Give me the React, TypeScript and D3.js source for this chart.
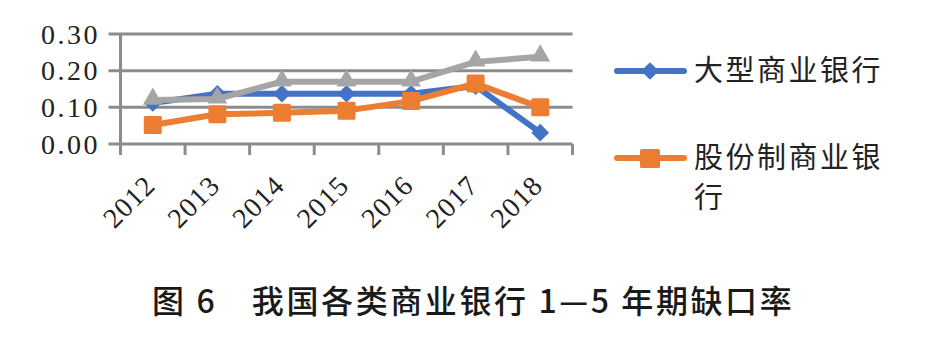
import React, { useEffect, useRef } from "react";
import * as d3 from "d3";

const categories = ["2012", "2013", "2014", "2015", "2016", "2017", "2018"];
const yTicks = [0, 0.1, 0.2, 0.3];
const seriesNames = ["大型商业银行", "股份制商业银行", "城市商业银行"];
const bigBanks = [0.112, 0.137, 0.137, 0.137, 0.137, 0.158, 0.031];
const jointStock = [0.052, 0.081, 0.085, 0.091, 0.117, 0.165, 0.1];
const cityBanks = [0.12, 0.123, 0.17, 0.17, 0.17, 0.224, 0.238];
const colors = ["#4472C4", "#ED7D31", "#A5A5A5"];
const title = "图 6\u3000我国各类商业银行 1—5 年期缺口率";

export default function App() {
  const ref = useRef<SVGSVGElement>(null);
  useEffect(() => {
    const svg = d3.select(ref.current);
    svg.selectAll("*").remove();
    const left = 120.5, right = 572.5, top = 34, bottom = 144;
    const x = d3.scaleBand().domain(categories).range([left, right]);
    const y = d3.scaleLinear().domain([0, 0.3]).range([bottom, top]);
    const grid = "#8c8c8c";
    const serif = "'Liberation Serif', 'DejaVu Serif', serif";

    // gridlines
    svg.append("g").selectAll("line").data(yTicks).join("line")
      .attr("x1", left - 12).attr("x2", right)
      .attr("y1", d => y(d)).attr("y2", d => y(d))
      .attr("stroke", grid).attr("stroke-width", 3);
    // y axis
    svg.append("line").attr("x1", left).attr("x2", left)
      .attr("y1", top).attr("y2", bottom + 11)
      .attr("stroke", grid).attr("stroke-width", 3);
    // x ticks
    const tickPos = categories.map(c => x(c)!).concat([right]);
    svg.append("g").selectAll("line").data(tickPos).join("line")
      .attr("x1", d => d).attr("x2", d => d)
      .attr("y1", bottom).attr("y2", bottom + 11)
      .attr("stroke", grid).attr("stroke-width", 3);
    // y labels
    svg.append("g").selectAll("text").data(yTicks).join("text")
      .attr("x", 100).attr("y", d => y(d)).attr("dy", "0.35em")
      .attr("text-anchor", "end")
      .attr("font-family", serif).attr("letter-spacing", 2.5)
      .attr("font-size", 28).attr("fill", "#222")
      .text(d => d.toFixed(2));
    // x labels
    svg.append("g").selectAll("text").data(categories).join("text")
      .attr("transform", d => `translate(${x(d)! + x.bandwidth() / 2 - 3},${bottom + 36}) rotate(-45)`)
      .attr("text-anchor", "end").attr("dy", "0.36em")
      .attr("font-family", serif).attr("letter-spacing", 1)
      .attr("font-size", 28).attr("fill", "#222")
      .text(d => d);

    const all = [bigBanks, jointStock, cityBanks];
    const cx = (i: number) => x(categories[i])! + x.bandwidth() / 2;
    const line = d3.line<number>().x((_, i) => cx(i)).y(d => y(d));
    const order = [0, 2, 1];
    order.forEach(s => {
      const g = svg.append("g");
      g.append("path").datum(all[s]).attr("d", line)
        .attr("fill", "none").attr("stroke", colors[s]).attr("stroke-width", 6)
        .attr("stroke-linejoin", "round").attr("stroke-linecap", "round");
      all[s].forEach((v, i) => {
        const px = cx(i), py = y(v);
        if (s === 0) {
          g.append("path").attr("d", d3.symbol(d3.symbolDiamond2, 200)())
            .attr("transform", `translate(${px},${py})`).attr("fill", colors[s]);
        } else if (s === 1) {
          g.append("rect").attr("x", px - 9).attr("y", py - 9).attr("width", 18).attr("height", 18)
            .attr("rx", 1.5).attr("fill", colors[s]);
        } else {
          g.append("path").attr("d", d3.symbol(d3.symbolTriangle, 170)())
            .attr("transform", `translate(${px},${py - 1})`).attr("fill", colors[s]);
        }
      });
    });

    // legend
    const lg = svg.append("g");
    const legendY = [71, 158];
    [0, 1].forEach(s => {
      const ly = legendY[s];
      lg.append("line").attr("x1", 617).attr("x2", 684).attr("y1", ly).attr("y2", ly)
        .attr("stroke", colors[s]).attr("stroke-width", 6).attr("stroke-linecap", "round");
      if (s === 0) {
        lg.append("path").attr("d", d3.symbol(d3.symbolDiamond2, 200)())
          .attr("transform", `translate(650,${ly})`).attr("fill", colors[s]);
      } else {
        lg.append("rect").attr("x", 640).attr("y", ly - 9).attr("width", 20).attr("height", 19)
          .attr("rx", 1.5).attr("fill", colors[s]);
      }
    });
    const lf = "'Noto Sans CJK SC', sans-serif";
    const legendLines = [
      { t: seriesNames[0], y: 71 },
      { t: seriesNames[1].slice(0, 6), y: 158 },
      { t: seriesNames[1].slice(6), y: 198 },
    ];
    lg.selectAll("text.l").data(legendLines).join("text")
      .attr("x", 694).attr("y", d => d.y).attr("dy", "0.36em")
      .attr("font-family", lf).attr("font-size", 29).attr("letter-spacing", 2.5).attr("fill", "#222")
      .text(d => d.t);

    // title
    svg.append("text").attr("x", 152).attr("y", 301).attr("dy", "0.36em")
      .attr("text-anchor", "start")
      .attr("font-family", lf).attr("font-size", 32).attr("font-weight", 500)
      .attr("letter-spacing", 2.6).attr("fill", "#1a1a1a")
      .attr("xml:space", "preserve")
      .text(title);
  }, []);
  return (
    <svg ref={ref} width={944} height={339}
      style={{ position: "absolute", left: 0, top: 0, background: "#fff" }} />
  );
}
